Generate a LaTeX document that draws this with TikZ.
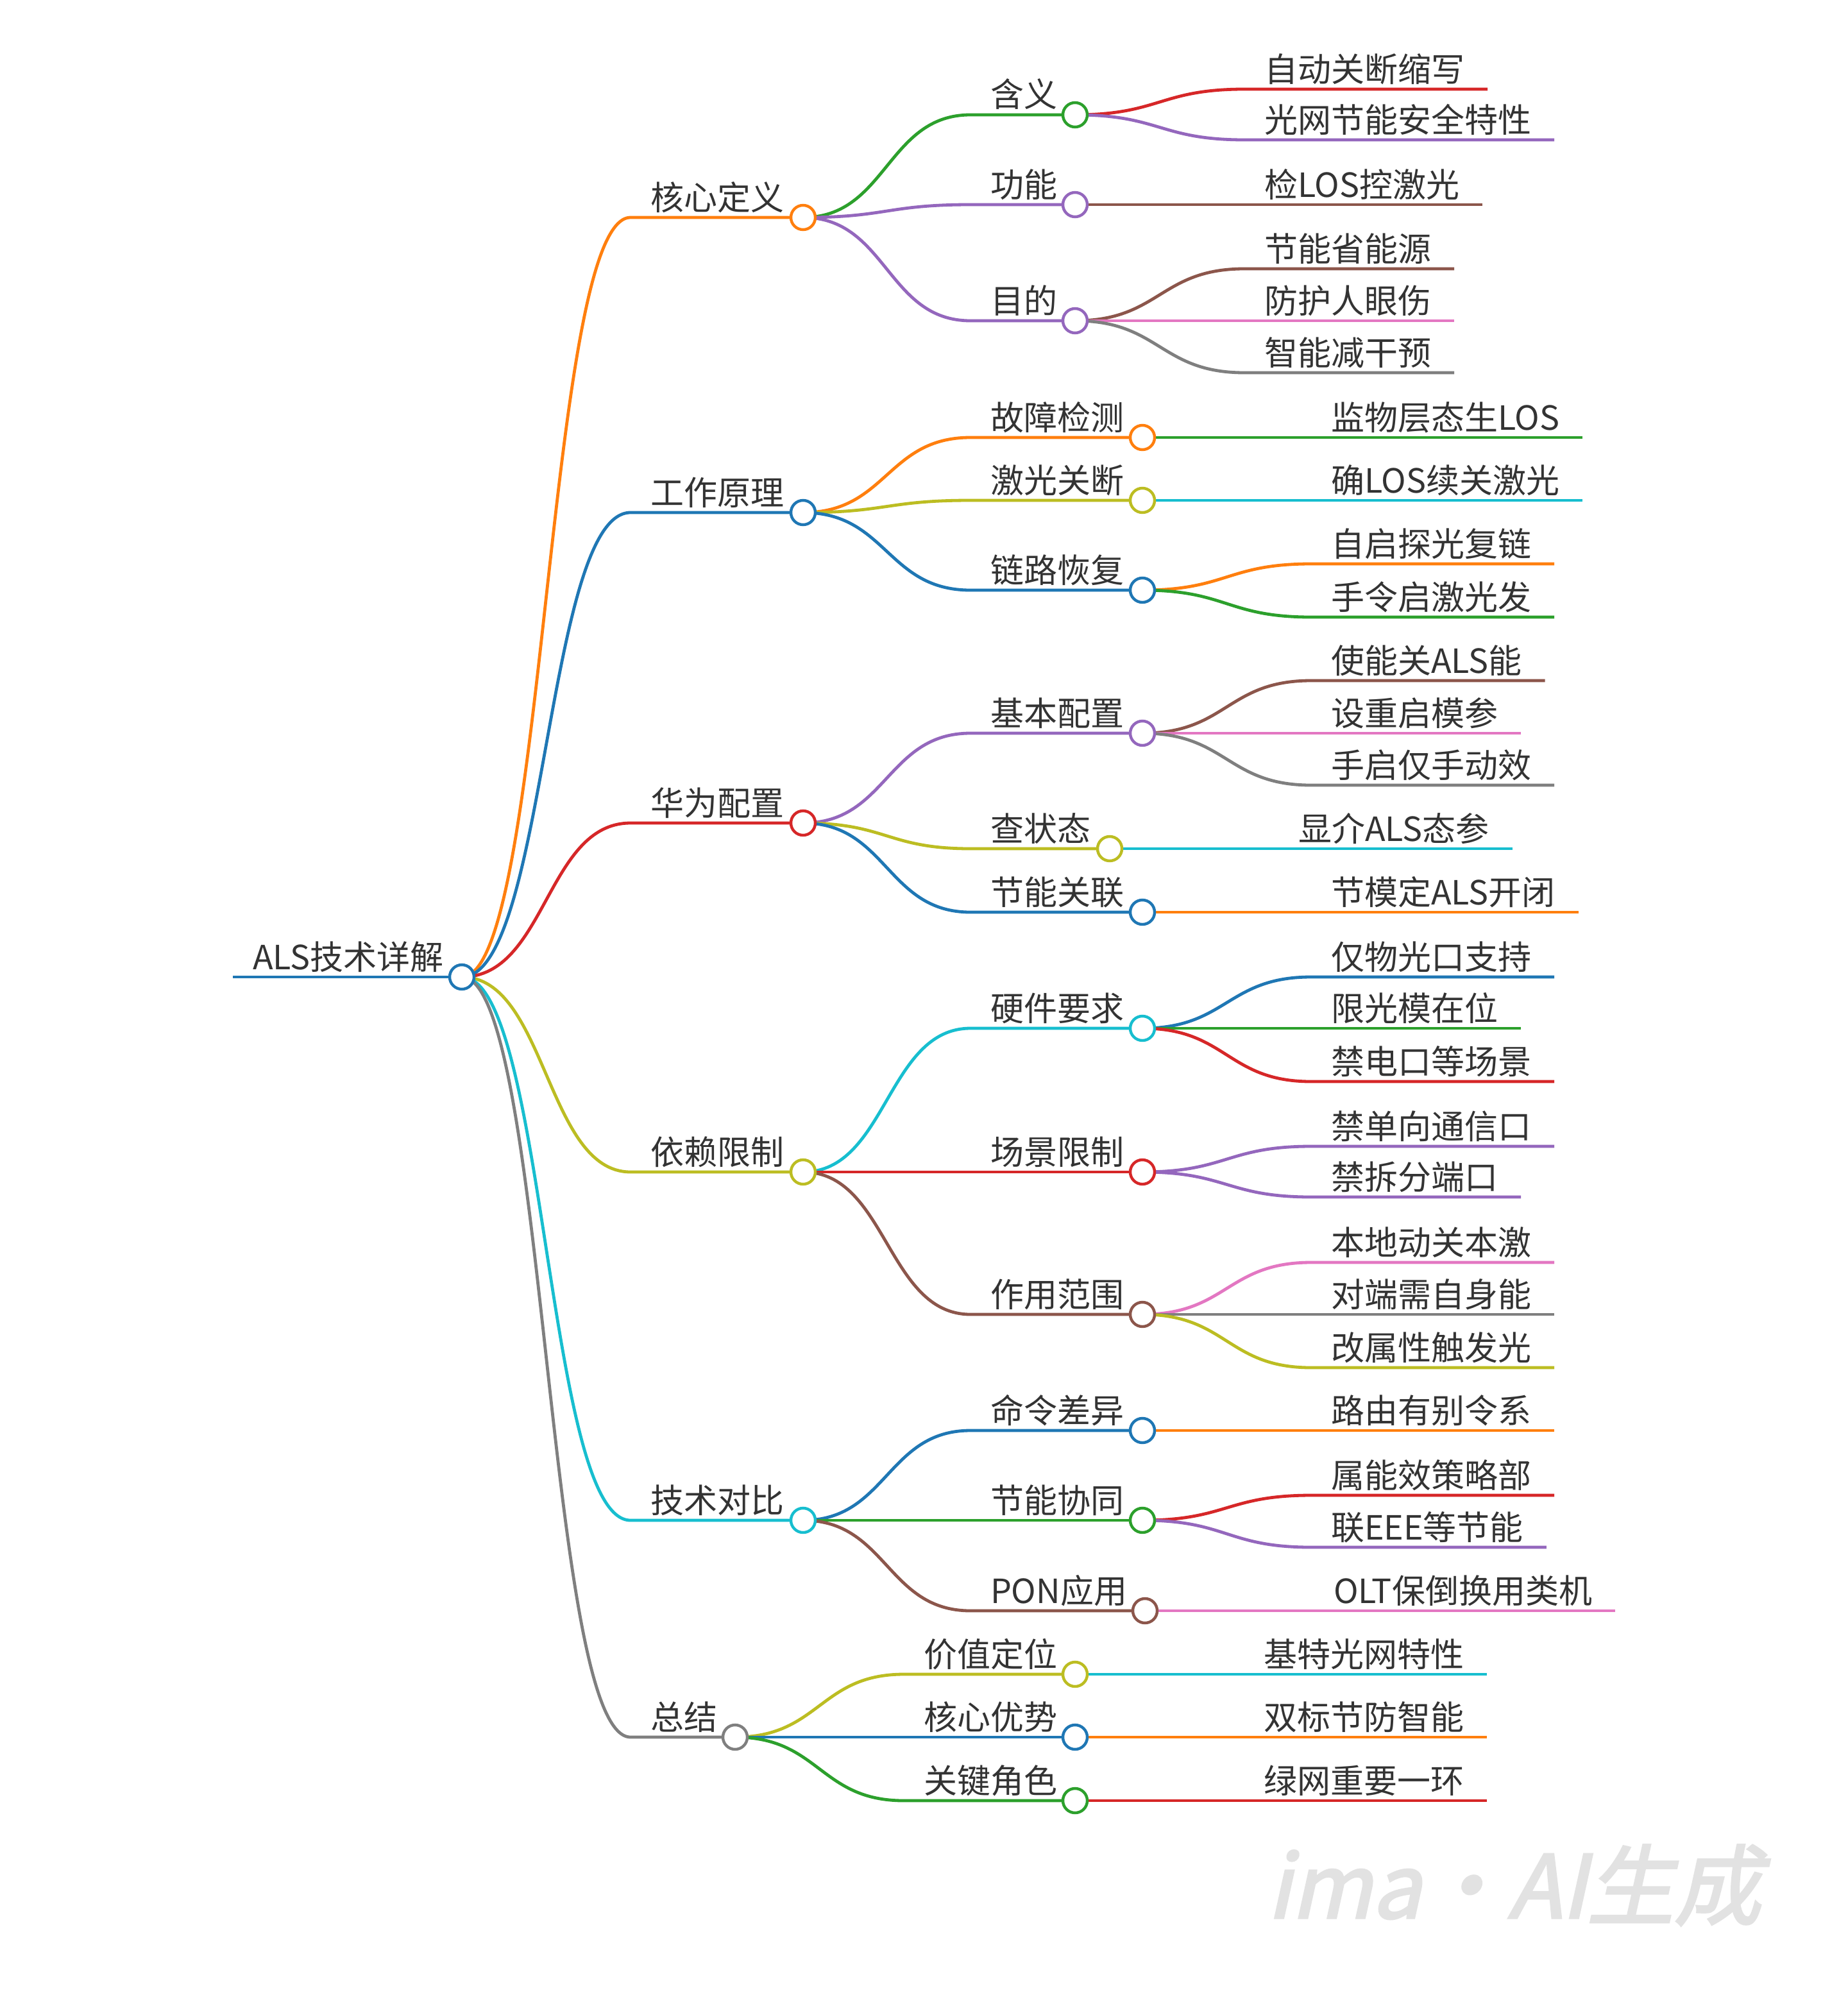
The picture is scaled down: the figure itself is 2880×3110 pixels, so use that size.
\documentclass[tikz,border=0pt]{standalone}
\usepackage{fontspec}
\setmainfont{Noto Sans CJK SC}
\newfontfamily\wmfont{Noto Sans CJK SC}[FakeSlant=0.22,FakeBold=2.5]
\usetikzlibrary{calc}
\pgfdeclarelayer{bg}
\pgfsetlayers{bg,main}
\definecolor{cblue}{HTML}{1F77B4}
\definecolor{corange}{HTML}{FF7F0E}
\definecolor{cgreen}{HTML}{2CA02C}
\definecolor{cred}{HTML}{D62728}
\definecolor{cpurple}{HTML}{9467BD}
\definecolor{cbrown}{HTML}{8C564B}
\definecolor{cpink}{HTML}{E377C2}
\definecolor{cgray}{HTML}{7F7F7F}
\definecolor{colive}{HTML}{BCBD22}
\definecolor{ccyan}{HTML}{17BECF}
\definecolor{txtgray}{HTML}{333333}
\definecolor{wmgray}{HTML}{E2E2E2}
\tikzset{
  lbl/.style={anchor=base west, inner sep=0pt, outer sep=0pt, text=txtgray, font=\fontsize{26pt}{30pt}\selectfont},
  mmdot/.style={circle, draw=#1, fill=white, line width=2.2pt, minimum size=19pt, inner sep=0pt, outer sep=0pt},
  mmline/.style={draw=#1, line width=2.4pt}
}
\newcommand\mmInner[7]{%
  \coordinate (s#1) at (#4,#5);
  \node[mmdot=#3] (c#1) at (#6,#5) {};
  \node[lbl] (t#1) at (#4+31,#5-12) {#7};
  \begin{pgfonlayer}{bg}
    \coordinate (m#1) at ($(#2.center)!0.5!(s#1)$);
    \draw[mmline=#3] (#2.center) .. controls (m#1 |- #2.center) and (m#1 |- s#1) .. (s#1) -- (c#1.center);
  \end{pgfonlayer}}
\newcommand\mmLeaf[6]{%
  \coordinate (s#1) at (#4,#5);
  \node[lbl] (t#1) at (#4+31,#5-12) {#6};
  \coordinate (e#1) at ($(t#1.east |- s#1)+(36,0)$);
  \begin{pgfonlayer}{bg}
    \coordinate (m#1) at ($(#2.center)!0.5!(s#1)$);
    \draw[mmline=#3] (#2.center) .. controls (m#1 |- #2.center) and (m#1 |- s#1) .. (s#1) -- (e#1);
  \end{pgfonlayer}}
\begin{document}
\begin{tikzpicture}[x=0.5pt,y=-0.5pt]
\begin{pgfonlayer}{bg}
  \fill[white] (0,0) rectangle (2880,3110);
\end{pgfonlayer}
\useasboundingbox (0,0) rectangle (2880,3110);
% root
\coordinate (sroot) at (363,1523);
\node[mmdot=cblue] (croot) at (720,1523) {};
\node[lbl] (troot) at (394,1511) {ALS技术详解};
\begin{pgfonlayer}{bg}
  \draw[mmline=cblue] (sroot) -- (croot.center);
\end{pgfonlayer}
% level 1
\mmInner{A}{croot}{corange}{983}{339}{1252}{核心定义}
\mmInner{B}{croot}{cblue}{983}{799}{1252}{工作原理}
\mmInner{C}{croot}{cred}{983}{1283}{1252}{华为配置}
\mmInner{D}{croot}{colive}{983}{1827}{1252}{依赖限制}
\mmInner{E}{croot}{ccyan}{983}{2370}{1252}{技术对比}
\mmInner{F}{croot}{cgray}{983}{2708}{1146}{总结}
% level 2
\mmInner{A1}{cA}{cgreen}{1513}{179}{1676}{含义}
\mmInner{A2}{cA}{cpurple}{1513}{319}{1676}{功能}
\mmInner{A3}{cA}{cpurple}{1513}{500}{1676}{目的}
\mmInner{B1}{cB}{corange}{1513}{682}{1781}{故障检测}
\mmInner{B2}{cB}{colive}{1513}{780}{1781}{激光关断}
\mmInner{B3}{cB}{cblue}{1513}{920}{1781}{链路恢复}
\mmInner{C1}{cC}{cpurple}{1513}{1143}{1781}{基本配置}
\mmInner{C2}{cC}{colive}{1513}{1323}{1730}{查状态}
\mmInner{C3}{cC}{cblue}{1513}{1422}{1781}{节能关联}
\mmInner{D1}{cD}{ccyan}{1513}{1603}{1781}{硬件要求}
\mmInner{D2}{cD}{cred}{1513}{1827}{1781}{场景限制}
\mmInner{D3}{cD}{cbrown}{1513}{2049}{1781}{作用范围}
\mmInner{E1}{cE}{cblue}{1513}{2230}{1781}{命令差异}
\mmInner{E2}{cE}{cgreen}{1513}{2370}{1781}{节能协同}
\mmInner{E3}{cE}{cbrown}{1513}{2511}{1785}{PON应用}
\mmInner{F1}{cF}{colive}{1409}{2610}{1676}{价值定位}
\mmInner{F2}{cF}{cblue}{1409}{2708}{1676}{核心优势}
\mmInner{F3}{cF}{cgreen}{1409}{2807}{1676}{关键角色}
% level 3
\mmLeaf{A1a}{cA1}{cred}{1940}{139}{自动关断缩写}
\mmLeaf{A1b}{cA1}{cpurple}{1940}{218}{光网节能安全特性}
\mmLeaf{A2a}{cA2}{cbrown}{1940}{319}{检LOS控激光}
\mmLeaf{A3a}{cA3}{cbrown}{1940}{419}{节能省能源}
\mmLeaf{A3b}{cA3}{cpink}{1940}{500}{防护人眼伤}
\mmLeaf{A3c}{cA3}{cgray}{1940}{581}{智能减干预}
\mmLeaf{B1a}{cB1}{cgreen}{2044}{682}{监物层态生LOS}
\mmLeaf{B2a}{cB2}{ccyan}{2044}{780}{确LOS续关激光}
\mmLeaf{B3a}{cB3}{corange}{2044}{879}{自启探光复链}
\mmLeaf{B3b}{cB3}{cgreen}{2044}{962}{手令启激光发}
\mmLeaf{C1a}{cC1}{cbrown}{2044}{1061}{使能关ALS能}
\mmLeaf{C1b}{cC1}{cpink}{2044}{1143}{设重启模参}
\mmLeaf{C1c}{cC1}{cgray}{2044}{1224}{手启仅手动效}
\mmLeaf{C2a}{cC2}{ccyan}{1993}{1323}{显介ALS态参}
\mmLeaf{C3a}{cC3}{corange}{2044}{1422}{节模定ALS开闭}
\mmLeaf{D1a}{cD1}{cblue}{2044}{1523}{仅物光口支持}
\mmLeaf{D1b}{cD1}{cgreen}{2044}{1603}{限光模在位}
\mmLeaf{D1c}{cD1}{cred}{2044}{1686}{禁电口等场景}
\mmLeaf{D2a}{cD2}{cpurple}{2044}{1787}{禁单向通信口}
\mmLeaf{D2b}{cD2}{cpurple}{2044}{1866}{禁拆分端口}
\mmLeaf{D3a}{cD3}{cpink}{2044}{1968}{本地动关本激}
\mmLeaf{D3b}{cD3}{cgray}{2044}{2049}{对端需自身能}
\mmLeaf{D3c}{cD3}{colive}{2044}{2132}{改属性触发光}
\mmLeaf{E1a}{cE1}{corange}{2044}{2230}{路由有别令系}
\mmLeaf{E2a}{cE2}{cred}{2044}{2331}{属能效策略部}
\mmLeaf{E2b}{cE2}{cpurple}{2044}{2412}{联EEE等节能}
\mmLeaf{E3a}{cE3}{cpink}{2048}{2511}{OLT保倒换用类机}
\mmLeaf{F1a}{cF1}{ccyan}{1939}{2610}{基特光网特性}
\mmLeaf{F2a}{cF2}{corange}{1939}{2708}{双标节防智能}
\mmLeaf{F3a}{cF3}{cred}{1939}{2807}{绿网重要一环}
% watermark
\node[anchor=base west, inner sep=0pt, text=wmgray, font=\wmfont\fontsize{68pt}{70pt}\selectfont] (wm) at (1975,2990) {ima·AI生成};
\end{tikzpicture}
\end{document}
